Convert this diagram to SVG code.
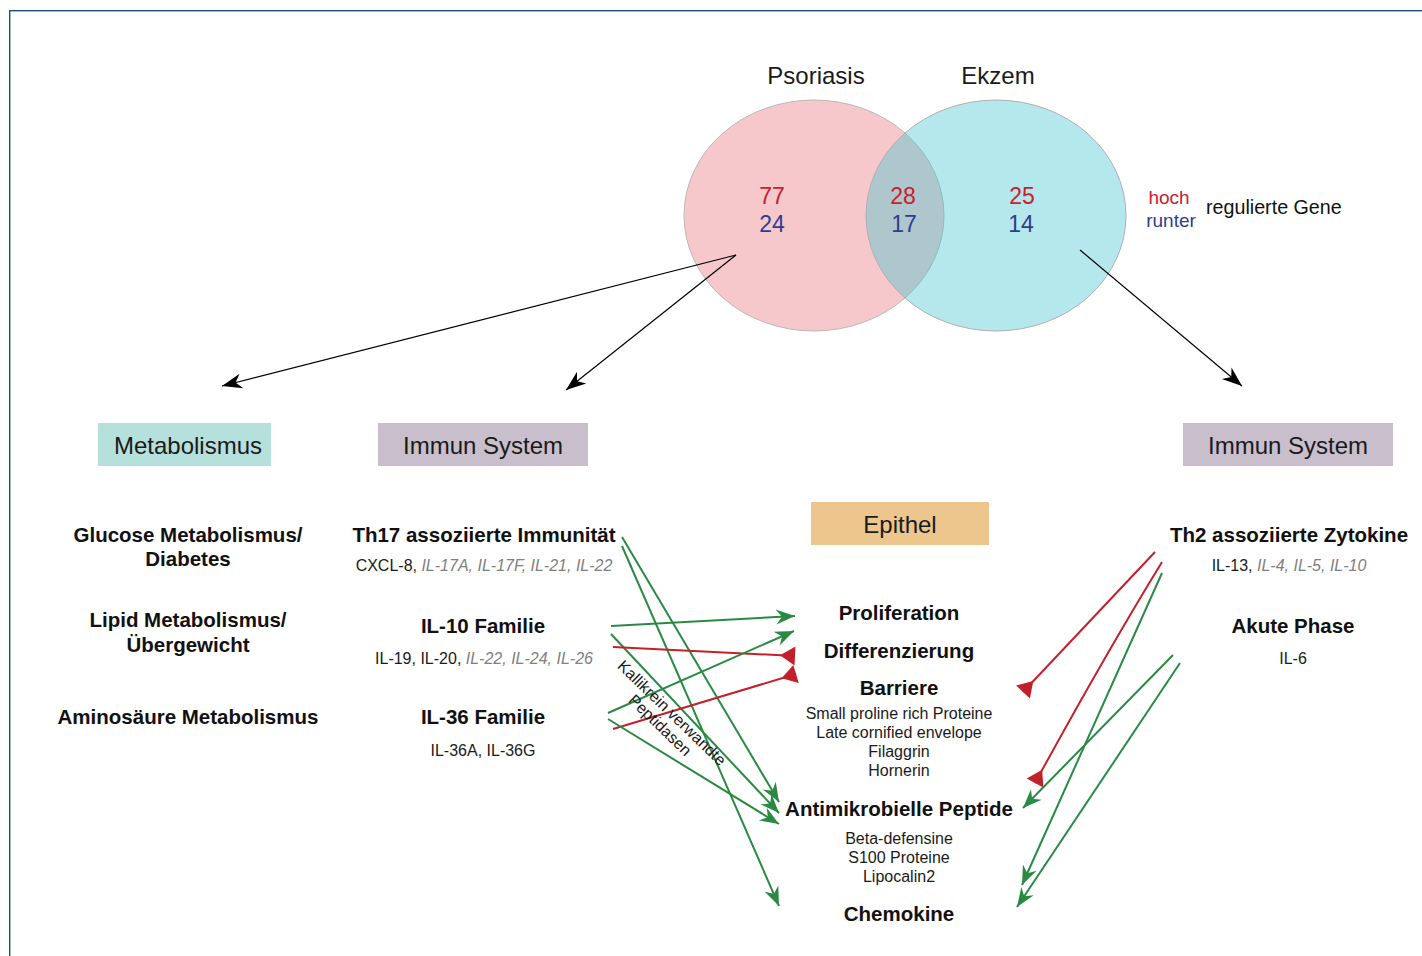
<svg xmlns="http://www.w3.org/2000/svg" width="1422" height="956" viewBox="0 0 1422 956">
<defs>
<style>
text{font-family:"Liberation Sans",Arial,sans-serif;}
.t{font-size:24px;fill:#1a1a1a;text-anchor:middle}
.h{font-size:20.5px;font-weight:bold;fill:#111;text-anchor:middle}
.s{font-size:16px;fill:#1a1a1a;text-anchor:middle}
.g{fill:#808080;font-style:italic}
.n{font-size:23px;text-anchor:middle}
.up{fill:#c8202f}
.dn{fill:#2f3d8f}
.bk{stroke:#000;stroke-width:1.2;fill:none}
.gr{stroke:#2a8a44;stroke-width:2;fill:none}
.rd{stroke:#c4202b;stroke-width:2;fill:none}
</style>
<marker id="ab" markerUnits="userSpaceOnUse" markerWidth="24" markerHeight="20" viewBox="-22 -10 24 20" refX="0" refY="0" orient="auto"><path d="M0,0 L-20,-7.5 L-14,0 L-20,7.5 Z" fill="#000"/></marker>
<marker id="ag" markerUnits="userSpaceOnUse" markerWidth="24" markerHeight="20" viewBox="-22 -10 24 20" refX="0" refY="0" orient="auto"><path d="M0,0 L-19,-7.5 L-13,0 L-19,7.5 Z" fill="#2a8a44"/></marker>
<marker id="ar" markerUnits="userSpaceOnUse" markerWidth="24" markerHeight="24" viewBox="-18 -12 24 24" refX="0" refY="0" orient="auto"><path d="M0,-9.5 L0,9.5 L-15,0 Z" fill="#c4202b"/></marker>
</defs>
<rect x="0" y="0" width="1422" height="956" fill="#fff"/>
<rect x="9.7" y="10.7" width="1430" height="960" fill="none" stroke="#1d4f7e" stroke-width="1.4"/>

<g id="venn">
<ellipse cx="814" cy="215.5" rx="130" ry="115.5" fill="#f6c8cc" stroke="#b9b9b9" stroke-width="1"/>
<ellipse cx="996" cy="215.5" rx="130" ry="115.5" fill="rgb(68,197,207)" fill-opacity="0.4" stroke="#b0b0b0" stroke-width="1"/>
<text class="t" x="816" y="84">Psoriasis</text>
<text class="t" x="998" y="84">Ekzem</text>
<text class="n up" x="772" y="204">77</text>
<text class="n dn" x="772" y="232">24</text>
<text class="n up" x="903" y="204">28</text>
<text class="n dn" x="904" y="232">17</text>
<text class="n up" x="1022" y="204">25</text>
<text class="n dn" x="1021" y="232">14</text>
</g>
<g id="legend">
<text x="1169" y="204" style="font-size:19px;text-anchor:middle" class="up">hoch</text>
<text x="1171" y="227" style="font-size:19px;text-anchor:middle" class="dn">runter</text>
<text x="1206" y="214" style="font-size:19.7px;fill:#111">regulierte Gene</text>
</g>

<g id="box-metabolismus">
<rect x="98" y="423" width="173" height="43" fill="#b6e0dc"/>
<text class="t" x="188" y="454">Metabolismus</text>
</g>
<g id="box-immun-left">
<rect x="378" y="423" width="210" height="43" fill="#c9bfcc"/>
<text class="t" x="483" y="454">Immun System</text>
</g>
<g id="box-immun-right">
<rect x="1183" y="423" width="210" height="43" fill="#c9bfcc"/>
<text class="t" x="1288" y="454">Immun System</text>
</g>
<g id="box-epithel">
<rect x="811" y="502" width="178" height="43" fill="#edc68e"/>
<text class="t" x="900" y="533">Epithel</text>
</g>

<g id="metabolism-items">
<text class="h" x="188" y="542">Glucose Metabolismus/</text>
<text class="h" x="188" y="566">Diabetes</text>
<text class="h" x="188" y="627">Lipid Metabolismus/</text>
<text class="h" x="188" y="652">Übergewicht</text>
<text class="h" x="188" y="724">Aminosäure Metabolismus</text>
</g>

<g id="th17">
<text class="h" x="484" y="542">Th17 assoziierte Immunität</text>
<text class="s" x="484" y="571">CXCL-8, <tspan class="g">IL-17A, IL-17F, IL-21, IL-22</tspan></text>
</g>
<g id="il10">
<text class="h" x="483" y="633">IL-10 Familie</text>
<text class="s" x="484" y="664">IL-19, IL-20, <tspan class="g">IL-22, IL-24, IL-26</tspan></text>
</g>
<g id="il36">
<text class="h" x="483" y="724">IL-36 Familie</text>
<text class="s" x="483" y="756">IL-36A, IL-36G</text>
</g>

<g id="th2">
<text class="h" x="1289" y="542">Th2 assoziierte Zytokine</text>
<text class="s" x="1289" y="571">IL-13, <tspan class="g">IL-4, IL-5, IL-10</tspan></text>
</g>
<g id="akute-phase">
<text class="h" x="1293" y="633">Akute Phase</text>
<text class="s" x="1293" y="664">IL-6</text>
</g>

<g id="proliferation"><text class="h" x="899" y="620">Proliferation</text></g>
<g id="differenzierung"><text class="h" x="899" y="658">Differenzierung</text></g>
<g id="barriere">
<text class="h" x="899" y="695">Barriere</text>
<text class="s" x="899" y="719">Small proline rich Proteine</text>
<text class="s" x="899" y="738">Late cornified envelope</text>
<text class="s" x="899" y="757">Filaggrin</text>
<text class="s" x="899" y="776">Hornerin</text>
</g>
<g id="amp">
<text class="h" x="899" y="816">Antimikrobielle Peptide</text>
<text class="s" x="899" y="844">Beta-defensine</text>
<text class="s" x="899" y="863">S100 Proteine</text>
<text class="s" x="899" y="882">Lipocalin2</text>
</g>
<g id="chemokine"><text class="h" x="899" y="921">Chemokine</text></g>

<g id="connectors">
<line class="bk" x1="736" y1="255" x2="222" y2="386" marker-end="url(#ab)"/>
<line class="bk" x1="736" y1="255" x2="566" y2="390" marker-end="url(#ab)"/>
<line class="bk" x1="1080" y1="250" x2="1242" y2="386" marker-end="url(#ab)"/>

<line class="gr" x1="622" y1="537" x2="779" y2="802" marker-end="url(#ag)"/>
<line class="gr" x1="622" y1="546" x2="779" y2="906" marker-end="url(#ag)"/>
<line class="gr" x1="611" y1="626" x2="795" y2="616" marker-end="url(#ag)"/>
<line class="gr" x1="611" y1="634" x2="779" y2="813" marker-end="url(#ag)"/>
<line class="rd" x1="613" y1="647" x2="795" y2="656" marker-end="url(#ar)"/>
<line class="gr" x1="608" y1="713" x2="794" y2="631" marker-end="url(#ag)"/>
<line class="rd" x1="613" y1="729" x2="796" y2="674" marker-end="url(#ar)"/>
<line class="gr" x1="608" y1="719" x2="779" y2="824" marker-end="url(#ag)"/>

<line class="rd" x1="1155" y1="552" x2="1023" y2="692" marker-end="url(#ar)"/>
<path class="rd" d="M1162,562 Q1105,655 1035,783" marker-end="url(#ar)"/>
<line class="gr" x1="1162" y1="573" x2="1022" y2="885" marker-end="url(#ag)"/>
<line class="gr" x1="1173" y1="655" x2="1023" y2="808" marker-end="url(#ag)"/>
<line class="gr" x1="1180" y1="663" x2="1017" y2="907" marker-end="url(#ag)"/>

<g transform="translate(666,719) rotate(44)">
<text class="s" x="0" y="-3">Kallikrein verwandte</text>
<text class="s" x="0" y="14">Peptidasen</text>
</g>
</g>
</svg>
